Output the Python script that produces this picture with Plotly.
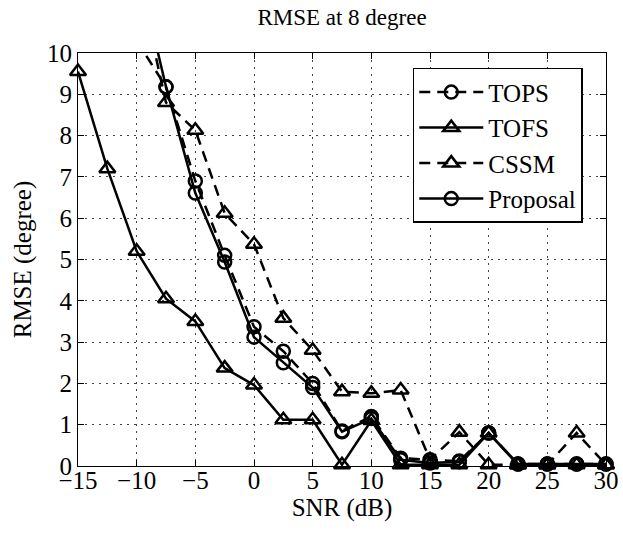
import plotly.graph_objects as go

snr = [-15, -12.5, -10, -7.5, -5, -2.5, 0, 2.5, 5, 7.5, 10, 12.5, 15, 17.5, 20, 22.5, 25, 27.5, 30]

tops = [None, None, 10.3, 9.18, 6.9, 5.1, 3.37, 2.78, 2.0, 0.85, 1.2, 0.19, 0.15, 0.12, 0.8, 0.05, 0.05, 0.05, 0.05]
tofs = [9.55, 7.2, 5.2, 4.05, 3.5, 2.37, 1.96, 1.12, 1.12, 0.03, 1.1, 0.03, 0.03, 0.03, 0.8, 0.03, 0.03, 0.03, 0.03]
cssm = [None, None, 12.0, 8.8, 8.13, 6.12, 5.37, 3.58, 2.8, 1.8, 1.76, 1.84, 0.15, 0.82, 0.03, 0.03, 0.03, 0.8, 0.03]
proposal = [None, None, 12.2, 9.18, 6.61, 4.94, 3.12, 2.5, 1.9, 0.83, 1.15, 0.15, 0.07, 0.1, 0.8, 0.05, 0.05, 0.05, 0.05]

names = ["TOPS", "TOFS", "CSSM", "Proposal"]
series = [tops, tofs, cssm, proposal]
symbols = ["circle-open", "triangle-up-open", "triangle-up-open", "circle-open"]
dashes = ["11px,7px", "solid", "11px,7px", "solid"]
sizes = [13, 14, 14, 13]

FONT = "Liberation Serif"

fig = go.Figure()
for name, ys, sym, dsh, sz in zip(names, series, symbols, dashes, sizes):
    fig.add_trace(go.Scatter(
        x=snr, y=ys, name=name, mode="lines+markers",
        line=dict(color="black", width=2.5, dash=dsh),
        marker=dict(symbol=sym, size=sz, color="black", line=dict(color="black", width=2.5)),
        cliponaxis=False, connectgaps=False,
    ))

axis_common = dict(
    showline=True, linecolor="black", linewidth=1, mirror="allticks",
    ticks="inside", ticklen=6, tickcolor="black", tickwidth=1,
    showgrid=True, gridcolor="#444444", gridwidth=1, griddash="2px,5px",
    zeroline=False, tickfont=dict(family=FONT, size=25, color="black"),
    automargin=False,
)

fig.update_layout(
    width=623, height=533,
    paper_bgcolor="white", plot_bgcolor="white",
    margin=dict(l=78, r=17, t=53, b=67),
    font=dict(family=FONT, color="black"),
    title=dict(text="RMSE at 8 degree", x=0.549, xanchor="center", y=0.968, yanchor="middle",
               yref="container", font=dict(family=FONT, size=23, color="black")),
    xaxis=dict(range=[-15, 30], dtick=5, tick0=-15, ticklabelstandoff=-8,
               title=dict(text="SNR (dB)", font=dict(family=FONT, size=25), standoff=0),
               **axis_common),
    yaxis=dict(range=[0, 10], dtick=1, tick0=0,
               title=dict(text="RMSE (degree)", font=dict(family=FONT, size=25), standoff=8),
               **axis_common),
    legend=dict(x=0.956, y=0.964, xanchor="right", yanchor="top",
                bgcolor="white", bordercolor="black", borderwidth=1.5,
                font=dict(family=FONT, size=25, color="black"),
                itemwidth=64, tracegroupgap=0),
    showlegend=True,
)

fig.write_html("out.html", config={"displayModeBar": False},
               post_script="document.body.style.margin='0';document.body.style.padding='0';")
